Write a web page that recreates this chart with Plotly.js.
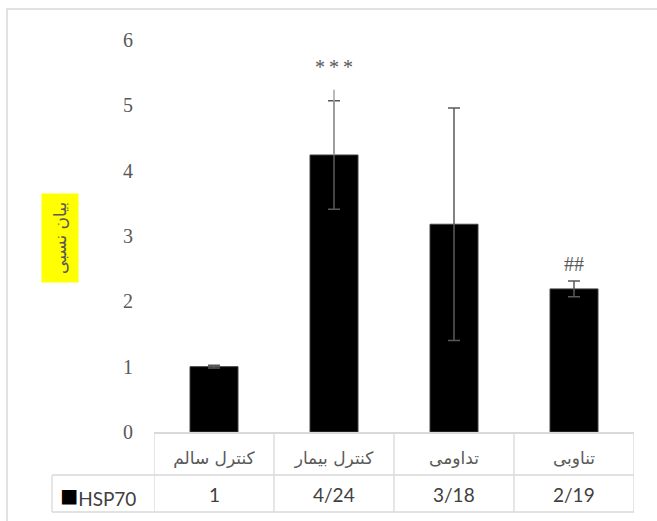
<!DOCTYPE html>
<html><head><meta charset="utf-8">
<script src="https://cdn.plot.ly/plotly-3.0.1.min.js"></script>
<style>html,body{margin:0;padding:0;background:#fff}#chart{width:657px;height:521px}</style>
</head><body><div id="chart"></div>
<script>
const categories = ['کنترل سالم', 'کنترل بیمار', 'تداومی', 'تناوبی'];
const values = [1, 4.24, 3.18, 2.19];
const errors = [0.02, 0.83, 1.78, 0.12];
const extraUp = [0, 1.0, 0, 0];
const sigLabels = ['', '*\u2009*\u2009*', '', '##'];
const sigY = [null, 5.59, null, 2.57];
const yTicks = [0, 1, 2, 3, 4, 5, 6];
const seriesName = 'HSP70';
const yTitle = 'بیان نسبی';

const L = 154, R = 634, T = 40, B = 432;
const px = x => (x - L) / (R - L);
const py = y => (B - y) / (B - T);
const gridCol = '#d9d9d9';
const txtCol = '#595959';

const traces = [
  {
    type: 'bar', x: categories, y: values, name: seriesName,
    marker: {color: '#000000', line: {color: '#404040', width: 1}},
    width: 0.4,
    error_y: {type: 'data', array: errors, visible: true, color: '#595959', thickness: 1.5, width: 6},
    showlegend: false, hoverinfo: 'skip'
  },
  {
    type: 'scatter', mode: 'markers', x: categories, y: values,
    marker: {opacity: 0, size: 1},
    error_y: {type: 'data', symmetric: false, array: extraUp, arrayminus: values.map(() => 0),
      visible: true, color: '#a6a6a6', thickness: 1.5, width: 0},
    showlegend: false, hoverinfo: 'skip'
  }
];

const shapes = [];
const line = {color: gridCol, width: 1.3};
shapes.push({type: 'rect', xref: 'paper', yref: 'paper', x0: px(7), x1: px(720), y0: py(9), y1: py(600), line: {color: gridCol, width: 1.5}});
[475, 512].forEach(y => shapes.push({type: 'line', xref: 'paper', yref: 'paper', x0: px(52), x1: px(R), y0: py(y), y1: py(y), line}));
for (let i = 0; i <= categories.length; i++) {
  shapes.push({type: 'line', xref: 'x', yref: 'paper', x0: i - 0.5, x1: i - 0.5, y0: py(432), y1: py(512), line});
}
shapes.push({type: 'line', xref: 'paper', yref: 'paper', x0: px(52), x1: px(52), y0: py(475), y1: py(512), line});

const annotations = [];
categories.forEach((c, i) => {
  annotations.push({
    x: c, xref: 'x', y: py(494), yref: 'paper', text: String(values[i]).replace('.', '/'),
    showarrow: false, xanchor: 'center', yanchor: 'middle',
    font: {family: 'Lato, "Noto Sans", sans-serif', size: 19, color: '#404040'}
  });
  if (sigLabels[i]) {
    annotations.push({
      x: c, xref: 'x', y: sigY[i], yref: 'y', text: sigLabels[i], showarrow: false,
      xanchor: 'center', yanchor: 'middle',
      font: {family: '"Liberation Serif", serif', size: 20, color: txtCol}
    });
  }
});
annotations.push({
  x: px(58), xref: 'paper', y: py(494), yref: 'paper', xanchor: 'left', yanchor: 'middle',
  text: '<span style="color:#000000;font-size:30px">■</span>' + seriesName, showarrow: false,
  font: {family: 'Lato, "Noto Sans", sans-serif', size: 19, color: '#404040'}
});
annotations.push({
  x: px(60), xref: 'paper', y: py(238), yref: 'paper', xanchor: 'center', yanchor: 'middle',
  text: yTitle, textangle: -90, showarrow: false, bgcolor: '#ffff00', borderpad: 8,
  font: {family: '"DejaVu Sans", sans-serif', size: 17, color: txtCol}
});

const layout = {
  width: 657, height: 521,
  margin: {l: L, r: 657 - R, t: T, b: 521 - B, pad: 0},
  paper_bgcolor: '#ffffff', plot_bgcolor: '#ffffff',
  xaxis: {
    type: 'category', range: [-0.5, categories.length - 0.5], fixedrange: true,
    showline: true, linecolor: gridCol, linewidth: 1.5, showgrid: false, zeroline: false,
    ticks: '', ticklabelstandoff: 10,
    tickfont: {family: '"DejaVu Sans", sans-serif', size: 17, color: txtCol}
  },
  yaxis: {
    range: [0, 6], tickvals: yTicks, ticktext: yTicks.map(String),
    showline: false, showgrid: false, zeroline: false, ticks: '', ticklabelstandoff: 20,
    tickfont: {family: '"Liberation Serif", serif', size: 20, color: txtCol}
  },
  shapes, annotations, showlegend: false
};

Plotly.newPlot('chart', traces, layout, {displayModeBar: false, staticPlot: true});
</script></body></html>
